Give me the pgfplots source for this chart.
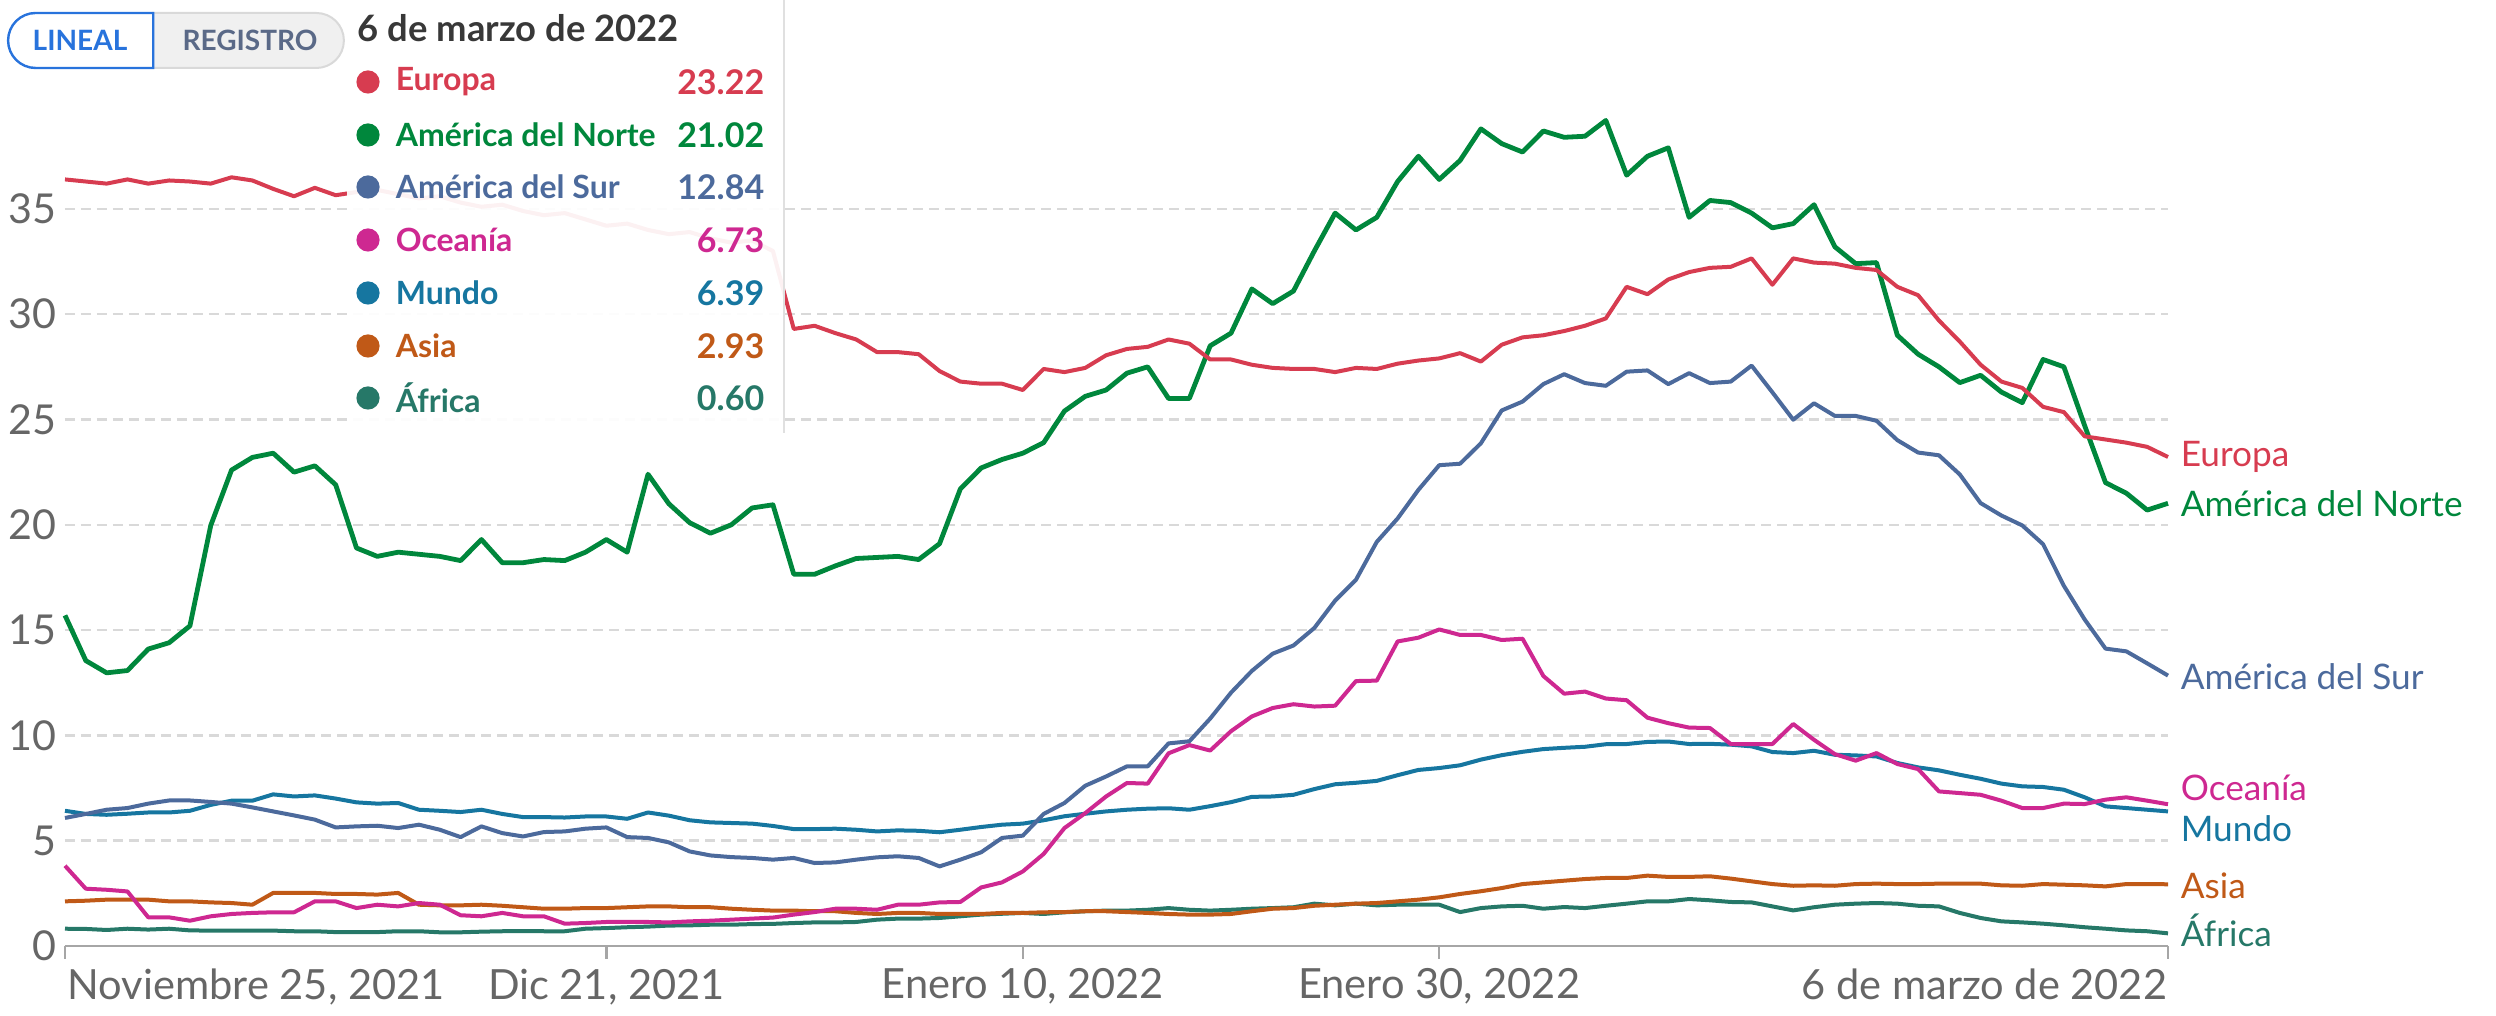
\documentclass[border=0pt]{standalone}
\usepackage{pgfplots}
\pgfplotsset{compat=1.18}
\usepackage{pgfplotstable}
\usepackage{fontspec}
\setmainfont{Lato}

\definecolor{cEu}{RGB}{215,60,80}
\definecolor{cNa}{RGB}{0,135,60}
\definecolor{cSa}{RGB}{76,106,156}
\definecolor{cOc}{RGB}{206,40,145}
\definecolor{cWo}{RGB}{22,118,160}
\definecolor{cAs}{RGB}{192,89,23}
\definecolor{cAf}{RGB}{38,120,104}
\definecolor{btnblue}{RGB}{40,115,220}
\definecolor{btngray}{RGB}{90,105,135}

% d = days since 25 Nov 2021
\pgfplotstableread{
d eu na sa oc wo as af
0 36.40 15.70 6.08 3.81 6.42 2.12 0.82
1 36.30 13.55 6.27 2.72 6.27 2.15 0.81
2 36.20 12.97 6.47 2.67 6.23 2.20 0.76
3 36.40 13.08 6.55 2.59 6.28 2.20 0.82
4 36.20 14.10 6.76 1.36 6.34 2.20 0.78
5 36.35 14.40 6.91 1.36 6.34 2.12 0.82
6 36.30 15.20 6.91 1.20 6.42 2.12 0.74
7 36.20 19.97 6.84 1.41 6.70 2.07 0.73
8 36.50 22.60 6.76 1.52 6.90 2.04 0.73
9 36.35 23.20 6.58 1.57 6.90 1.96 0.73
10 35.95 23.40 6.39 1.60 7.20 2.52 0.73
11 35.60 22.50 6.20 1.60 7.10 2.52 0.70
12 36.00 22.80 6.00 2.12 7.15 2.52 0.70
13 35.65 21.90 5.63 2.12 7.00 2.47 0.66
14 35.80 18.90 5.68 1.80 6.82 2.47 0.66
15 35.90 18.50 5.71 1.96 6.76 2.44 0.66
16 35.70 18.70 5.60 1.88 6.79 2.52 0.70
17 35.50 18.60 5.76 2.04 6.47 1.96 0.70
18 35.60 18.50 5.52 1.96 6.42 1.93 0.65
19 35.30 18.30 5.17 1.46 6.36 1.93 0.65
20 35.10 19.30 5.68 1.41 6.47 1.96 0.68
21 35.20 18.20 5.36 1.57 6.27 1.91 0.70
22 34.90 18.20 5.20 1.41 6.12 1.84 0.71
23 34.70 18.35 5.41 1.41 6.12 1.77 0.70
24 34.80 18.30 5.44 1.06 6.10 1.77 0.70
25 34.50 18.70 5.57 1.09 6.15 1.80 0.82
26 34.20 19.30 5.63 1.14 6.15 1.80 0.85
27 34.30 18.70 5.17 1.14 6.04 1.84 0.89
28 34.00 22.40 5.13 1.14 6.34 1.88 0.92
29 33.80 21.00 4.92 1.12 6.19 1.88 0.97
30 33.90 20.10 4.49 1.17 5.97 1.84 0.98
31 33.60 19.60 4.30 1.20 5.87 1.84 1.01
32 33.40 20.00 4.22 1.25 5.84 1.77 1.01
33 33.50 20.80 4.18 1.30 5.81 1.72 1.04
34 33.00 20.95 4.10 1.35 5.70 1.68 1.05
35 29.30 17.65 4.18 1.49 5.55 1.68 1.09
36 29.45 17.65 3.94 1.61 5.55 1.65 1.12
37 29.10 18.05 3.97 1.77 5.57 1.65 1.12
38 28.80 18.40 4.10 1.77 5.52 1.57 1.14
39 28.20 18.45 4.21 1.72 5.44 1.52 1.25
40 28.20 18.50 4.26 1.96 5.49 1.57 1.30
41 28.10 18.35 4.18 1.96 5.47 1.57 1.30
42 27.30 19.10 3.78 2.07 5.40 1.52 1.33
43 26.80 21.70 4.10 2.09 5.52 1.52 1.41
44 26.70 22.70 4.45 2.78 5.65 1.52 1.49
45 26.70 23.10 5.13 3.02 5.76 1.57 1.53
46 26.40 23.40 5.24 3.54 5.81 1.57 1.57
47 27.40 23.90 6.27 4.37 5.97 1.60 1.52
48 27.25 25.40 6.79 5.60 6.16 1.61 1.60
49 27.45 26.10 7.61 6.31 6.28 1.65 1.65
50 28.05 26.40 8.05 7.10 6.39 1.65 1.68
51 28.35 27.20 8.53 7.74 6.47 1.61 1.68
52 28.45 27.50 8.53 7.71 6.52 1.57 1.72
53 28.80 26.00 9.62 9.15 6.54 1.52 1.80
54 28.60 26.00 9.72 9.54 6.47 1.49 1.72
55 27.85 28.50 10.80 9.28 6.64 1.49 1.68
56 27.85 29.10 12.03 10.20 6.83 1.52 1.72
57 27.60 31.20 13.06 10.90 7.08 1.65 1.77
58 27.45 30.50 13.88 11.30 7.10 1.77 1.80
59 27.40 31.10 14.27 11.48 7.18 1.80 1.84
60 27.40 33.00 15.10 11.37 7.45 1.91 2.01
61 27.25 34.80 16.40 11.41 7.68 1.96 1.93
62 27.45 34.00 17.39 12.58 7.75 2.01 2.01
63 27.40 34.60 19.19 12.60 7.84 2.04 1.93
64 27.65 36.30 20.30 14.46 8.11 2.12 1.96
65 27.80 37.50 21.66 14.64 8.36 2.20 1.96
66 27.90 36.40 22.83 15.03 8.45 2.31 1.96
67 28.15 37.30 22.90 14.77 8.58 2.47 1.61
68 27.75 38.80 23.87 14.77 8.85 2.60 1.80
69 28.55 38.10 25.43 14.53 9.06 2.75 1.88
70 28.90 37.70 25.85 14.59 9.22 2.94 1.91
71 29.00 38.70 26.68 12.82 9.35 3.02 1.77
72 29.20 38.40 27.15 11.98 9.41 3.10 1.85
73 29.45 38.45 26.73 12.08 9.46 3.18 1.80
74 29.80 39.20 26.60 11.75 9.58 3.23 1.91
75 31.30 36.60 27.27 11.67 9.59 3.23 2.01
76 30.95 37.50 27.33 10.84 9.69 3.34 2.12
77 31.65 37.90 26.68 10.58 9.71 3.28 2.12
78 32.00 34.60 27.20 10.37 9.59 3.28 2.23
79 32.20 35.40 26.73 10.35 9.60 3.31 2.17
80 32.25 35.30 26.80 9.59 9.56 3.20 2.09
81 32.65 34.80 27.56 9.59 9.48 3.07 2.07
82 31.40 34.10 26.29 9.59 9.21 2.94 1.88
83 32.65 34.30 24.99 10.54 9.16 2.86 1.69
84 32.45 35.20 25.77 9.79 9.27 2.88 1.84
85 32.40 33.20 25.17 9.11 9.08 2.86 1.96
86 32.20 32.40 25.17 8.80 9.05 2.94 2.01
87 32.10 32.45 24.94 9.16 9.00 2.96 2.04
88 31.30 29.00 24.02 8.64 8.69 2.94 2.01
89 30.90 28.10 23.43 8.40 8.48 2.94 1.91
90 29.70 27.50 23.30 7.34 8.34 2.96 1.88
91 28.70 26.75 22.39 7.26 8.13 2.96 1.57
92 27.60 27.10 21.03 7.18 7.94 2.96 1.33
93 26.80 26.30 20.44 6.90 7.71 2.88 1.17
94 26.50 25.80 19.97 6.55 7.58 2.86 1.12
95 25.60 27.85 19.08 6.55 7.55 2.94 1.06
96 25.35 27.50 17.10 6.76 7.42 2.91 0.98
97 24.20 24.70 15.50 6.74 7.06 2.88 0.89
98 24.05 22.00 14.12 6.95 6.63 2.83 0.82
99 23.90 21.50 13.99 7.06 6.55 2.94 0.74
100 23.70 20.70 13.42 6.90 6.47 2.94 0.70
101 23.22 21.02 12.84 6.73 6.39 2.93 0.60
}\data

\begin{document}
\begin{tikzpicture}
\path[use as bounding box] (0,0) rectangle (624pt,254pt);
\begin{axis}[
  at={(16.25pt,17.5pt)}, anchor=south west,
  scale only axis, width=525.75pt, height=210.6pt,
  xmin=0, xmax=101, ymin=0, ymax=40,
  axis x line*=bottom, axis y line*=left,
  x axis line style={-, draw=black!35, line width=0.6pt},
  y axis line style={draw=none},
  xtick={0,26,46,66,101}, xticklabels={},
  xtick align=outside, ytick align=inside, major tick length=3.25pt,
  xtick style={draw=black!35, line width=0.6pt},
  ytick={0,5,...,35}, ytick style={draw=none},
  ymajorgrids,
  major grid style={draw=black!15, line width=0.6pt, dash pattern=on 2.4pt off 1.6pt},
  yticklabel style={font=\fontsize{10.3}{12}\selectfont, text=black!60, inner sep=0pt, anchor=east, xshift=-2pt},
  /pgf/number format/assume math mode=true,
  clip=false,
  every axis plot/.append style={line width=1pt, no markers, line join=round},
]
\addplot[cAf] table[x=d,y=af]{\data};
\addplot[cAs] table[x=d,y=as]{\data};
\addplot[cWo] table[x=d,y=wo]{\data};
\addplot[cOc] table[x=d,y=oc]{\data};
\addplot[cSa] table[x=d,y=sa]{\data};
\addplot[cNa, line width=1.2pt] table[x=d,y=na]{\data};
\addplot[cEu] table[x=d,y=eu]{\data};

% x tick labels
\begin{scope}[every node/.style={inner sep=0, font=\fontsize{10.4}{12}\selectfont, text=black!60}]
\node[anchor=north west, xshift=0.5pt, yshift=-5.5pt] at (axis cs:0,0) {Noviembre 25, 2021};
\node[anchor=north, yshift=-5.5pt] at (axis cs:26,0) {Dic 21, 2021};
\node[anchor=north, yshift=-5.5pt] at (axis cs:46,0) {Enero 10, 2022};
\node[anchor=north, yshift=-5.5pt] at (axis cs:66,0) {Enero 30, 2022};
\node[anchor=north east, yshift=-5.5pt] at (axis cs:101,0) {6 de marzo de 2022};
\end{scope}

% end-of-line labels
\begin{scope}[every node/.style={inner sep=0, anchor=west, xshift=3pt, font=\fontsize{8.8}{11}\selectfont}]
\node[text=cEu] at (axis cs:101,23.2) {Europa};
\node[text=cNa] at (axis cs:101,21.0) {América del Norte};
\node[text=cSa] at (axis cs:101,12.8) {América del Sur};
\node[text=cOc] at (axis cs:101,7.5) {Oceanía};
\node[text=cWo] at (axis cs:101,5.55) {Mundo};
\node[text=cAs] at (axis cs:101,2.85) {Asia};
\node[text=cAf] at (axis cs:101,0.72) {África};
\end{scope}
\end{axis}

% LINEAL / REGISTRO toggle
\draw[fill=black!6, draw=black!15, line width=0.5pt] (38.3pt,237pt) -- (79.1pt,237pt) arc(-90:90:6.875pt) -- (38.3pt,250.75pt) -- cycle;
\draw[fill=white, draw=btnblue, line width=0.6pt] (38.3pt,237pt) -- (8.9pt,237pt) arc(270:90:6.875pt) -- (38.3pt,250.75pt) -- cycle;
\node[inner sep=0, font=\fontsize{7}{8}\selectfont\bfseries, text=btnblue] at (20pt,243.9pt) {LINEAL};
\node[inner sep=0, font=\fontsize{7}{8}\selectfont\bfseries, text=btngray] at (62.5pt,243.9pt) {REGISTRO};

% tooltip
\fill[white, fill opacity=0.93] (86.75pt,145.75pt) rectangle (196pt,254pt);
\draw[black!12, line width=0.5pt] (196pt,145.75pt) -- (196pt,254pt);
\node[anchor=west, inner sep=0, font=\fontsize{9.1}{10}\selectfont\bfseries, text=black!78] at (89.25pt,246.9pt) {6 de marzo de 2022};
\foreach \nm/\vl/\cl/\yy in {Europa/23.22/cEu/233.5, América del Norte/21.02/cNa/220.25, América del Sur/12.84/cSa/207.25, Oceanía/6.73/cOc/194, Mundo/6.39/cWo/180.75, Asia/2.93/cAs/167.5, África/0.60/cAf/154.5}{
  \fill[\cl] (92pt,\yy pt) circle (2.9pt);
  \node[anchor=west, inner sep=0, text=\cl, font=\fontsize{8}{10}\selectfont\bfseries] at (98.75pt,\yy pt) {\nm};
  \node[anchor=east, inner sep=0, text=\cl, font=\fontsize{8.5}{10}\selectfont\bfseries] at (191.25pt,\yy pt) {\vl};
}
\end{tikzpicture}
\end{document}
